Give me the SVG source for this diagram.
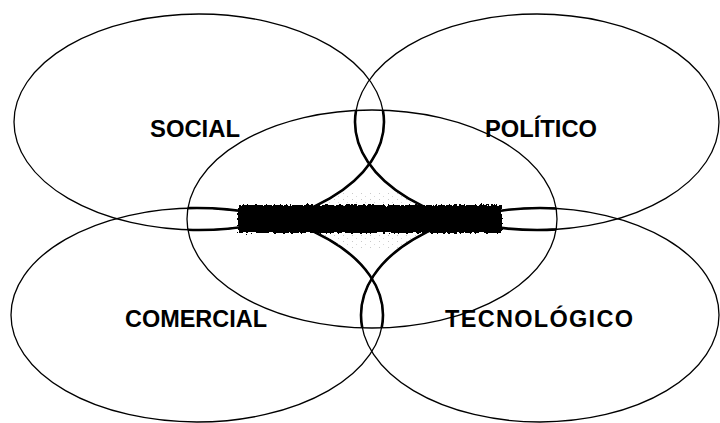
<svg xmlns="http://www.w3.org/2000/svg" width="720" height="423" viewBox="0 0 720 423">
<style>
.e{fill:none;stroke:#000;stroke-width:1.3}
.t{fill:none;stroke:#000;stroke-width:2.6}
.lbl{font-family:"Liberation Sans",Arial,sans-serif;font-weight:bold;font-size:23.5px;fill:#000}
</style>
<defs>
<clipPath id="inC"><ellipse cx="372" cy="219" rx="185" ry="109"/></clipPath>
<mask id="diamond">
<rect width="720" height="423" fill="#000"/>
<ellipse cx="372" cy="219" rx="185" ry="109" fill="#fff"/>
<ellipse cx="199" cy="122" rx="185" ry="108" fill="#000"/>
<ellipse cx="537" cy="122" rx="182" ry="108" fill="#000"/>
<ellipse cx="197" cy="315" rx="186" ry="107" fill="#000"/>
<ellipse cx="540" cy="315" rx="179" ry="107" fill="#000"/>
</mask>
<pattern id="dots" width="9" height="6" patternUnits="userSpaceOnUse">
<rect x="1" y="1" width="1" height="1" fill="#888"/>
<rect x="5" y="4" width="1" height="1" fill="#aaa"/>
</pattern>
<filter id="rough" x="-5%" y="-40%" width="110%" height="180%">
<feTurbulence type="fractalNoise" baseFrequency="0.35" numOctaves="2" seed="3" result="n"/>
<feDisplacementMap in="SourceGraphic" in2="n" scale="5" xChannelSelector="R" yChannelSelector="G"/>
</filter>
</defs>
<rect width="720" height="423" fill="#fff"/>
<g id="social">
<ellipse class="e" cx="199" cy="122" rx="185" ry="108"/>
<ellipse class="t" cx="199" cy="122" rx="185" ry="108" clip-path="url(#inC)"/>
<text class="lbl" x="150" y="137" textLength="90" lengthAdjust="spacingAndGlyphs">SOCIAL</text>
</g>
<g id="politico">
<ellipse class="e" cx="537" cy="122" rx="182" ry="108"/>
<ellipse class="t" cx="537" cy="122" rx="182" ry="108" clip-path="url(#inC)"/>
<text class="lbl" x="485" y="137" textLength="112" lengthAdjust="spacingAndGlyphs">POLÍTICO</text>
</g>
<g id="comercial">
<ellipse class="e" cx="197" cy="315" rx="186" ry="107"/>
<ellipse class="t" cx="197" cy="315" rx="186" ry="107" clip-path="url(#inC)"/>
<text class="lbl" x="125" y="327" textLength="142" lengthAdjust="spacingAndGlyphs">COMERCIAL</text>
</g>
<g id="tecnologico">
<ellipse class="e" cx="540" cy="315" rx="179" ry="107"/>
<ellipse class="t" cx="540" cy="315" rx="179" ry="107" clip-path="url(#inC)"/>
<text class="lbl" x="445" y="327" textLength="188" lengthAdjust="spacing">TECNOLÓGICO</text>
</g>
<g id="incertidumbre">
<ellipse class="e" cx="372" cy="219" rx="185" ry="109" stroke-width="1.5"/>
<rect x="300" y="192" width="150" height="56" fill="url(#dots)" mask="url(#diamond)" opacity="0.45"/>
<rect x="238" y="205" width="264" height="28" fill="#000" filter="url(#rough)"/>
</g>
<g id="connectors"/>
</svg>
